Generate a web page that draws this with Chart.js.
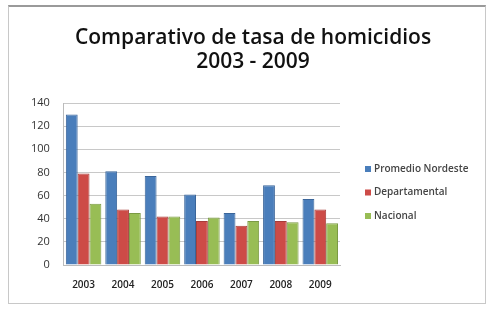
<!DOCTYPE html>
<html>
<head>
<meta charset="utf-8">
<script src="https://cdn.jsdelivr.net/npm/chart.js@4/dist/chart.umd.min.js"></script>
<style>
  html, body { margin: 0; padding: 0; background: #fff; }
  #wrap { position: relative; width: 490px; height: 309px; }
  #frame { position: absolute; left: 8px; top: 5px; width: 478px; height: 299px;
           border: 1px solid #c8c8c8; border-top: 2px solid #9a9a9a; box-sizing: border-box; }
  canvas { position: absolute; left: 0; top: 0; }
</style>
</head>
<body>
<div id="wrap">
  <div id="frame"></div>
  <canvas id="c" width="490" height="309"></canvas>
</div>
<script>
// años
var years = ["2003", "2004", "2005", "2006", "2007", "2008", "2009"];
// tasas
var promedioNordeste = [130, 81, 77, 61, 45, 69, 57];
var departamental = [79, 48, 42, 38, 34, 38, 48];
var nacional = [53, 45, 42, 41, 38, 37, 36];

var titleLines = ["Comparativo de tasa de homicidios", "2003 - 2009"];

// título y leyenda dibujados a mano: el título va centrado en todo el marco,
// no sólo sobre el área del gráfico
var decorations = {
  id: "decorations",
  afterDraw: function (chart) {
    var ctx = chart.ctx;
    ctx.save();
    ctx.fillStyle = "#111";
    ctx.font = "600 21px 'Open Sans'";
    ctx.textAlign = "center";
    ctx.textBaseline = "middle";
    titleLines.forEach(function (t, i) {
      ctx.fillText(t, 253, 38 + i * 24);
    });

    var x = 365, y = 169, step = 23.5;
    ctx.font = "600 10px 'Open Sans'";
    ctx.textAlign = "left";
    chart.data.datasets.forEach(function (ds, i) {
      ctx.fillStyle = ds.backgroundColor;
      ctx.fillRect(x, y + i * step - 3, 6, 6);
      ctx.fillStyle = "#444";
      ctx.fillText(ds.label, x + 9, y + i * step);
    });
    ctx.restore();
  }
};

new Chart(document.getElementById("c"), {
  type: "bar",
  data: {
    labels: years,
    datasets: [
      { label: "Promedio Nordeste", data: promedioNordeste, backgroundColor: "#4a7ebb", borderColor: "#3a659a", borderWidth: 1 },
      { label: "Departamental", data: departamental, backgroundColor: "#cd4b47", borderColor: "#a63c39", borderWidth: 1 },
      { label: "Nacional", data: nacional, backgroundColor: "#98bd55", borderColor: "#7b9a44", borderWidth: 1 }
    ]
  },
  plugins: [decorations],
  options: {
    responsive: false,
    animation: false,
    layout: { padding: { left: 17, right: 150, top: 103, bottom: 12 } },
    datasets: { bar: { categoryPercentage: 0.9, barPercentage: 1 } },
    plugins: {
      title: { display: false },
      legend: { display: false },
      tooltip: { enabled: false }
    },
    scales: {
      x: {
        grid: { display: false },
        border: { color: "#bbb" },
        ticks: { color: "#222", font: { family: "Open Sans", size: 10, weight: "600" }, padding: 6 }
      },
      y: {
        min: 0, max: 140,
        ticks: { stepSize: 20, color: "#333", font: { family: "Open Sans", size: 11 }, padding: 14 },
        grid: { color: "#c8c8c8", drawTicks: false },
        border: { color: "#bbb" }
      }
    }
  }
});
</script>
</body>
</html>
